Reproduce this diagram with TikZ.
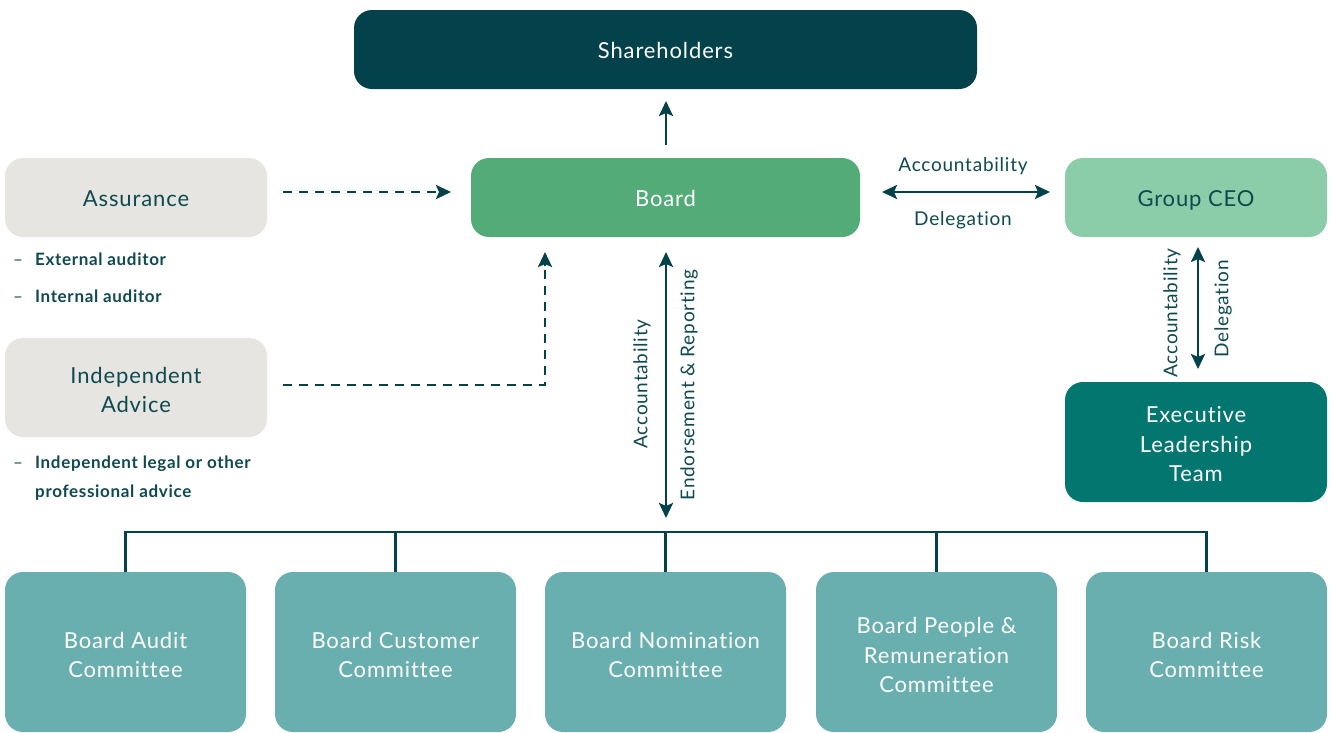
\documentclass[tikz,border=0pt]{standalone}
\usepackage{fontspec}
\setmainfont{Lato}[LetterSpace=4,Ligatures=NoCommon]
\usetikzlibrary{arrows.meta}
\definecolor{dk}{HTML}{03424A}
\definecolor{brd}{HTML}{53AB78}
\definecolor{ceo}{HTML}{8BCDA8}
\definecolor{gry}{HTML}{E6E5E1}
\definecolor{elt}{HTML}{037670}
\definecolor{cmt}{HTML}{69AFAF}
\definecolor{txt}{HTML}{0E4A4F}
\newcommand{\lift}[1]{\rule{0pt}{#1}}
\tikzset{
  box/.style={rounded corners=18pt, inner sep=0pt, align=center, draw=none,
    text depth=0pt, execute at begin node={\rule{0pt}{18pt}},
    font=\fontsize{22}{29.5}\selectfont},
  mbox/.style={box, execute at begin node={}},
  wbox/.style={box, text=white},
  dbox/.style={box, text=txt},
  cbox/.style={mbox, text=white, fill=cmt, minimum width=241pt, minimum height=160pt},
  lbl/.style={text=txt, inner sep=0pt, font=\fontsize{19}{22}\selectfont},
  bul/.style={text=txt, inner sep=0pt, anchor=west, align=left, font=\fontsize{17}{29}\selectfont\bfseries},
  arr/.style={draw=dk, line width=2.6pt, -{Stealth[length=15pt,width=14pt,inset=3pt]}},
  darr/.style={draw=dk, line width=2.6pt, {Stealth[length=15pt,width=14pt,inset=3pt]}-{Stealth[length=15pt,width=14pt,inset=3pt]}},
  dsh/.style={draw=dk, line width=2.6pt, dash pattern=on 9pt off 7pt},
  bus/.style={draw=dk, line width=2.6pt},
}
\begin{document}
\begin{tikzpicture}[x=1pt,y=-1pt]
\useasboundingbox[fill=white] (0,0) rectangle (1333,732);
% boxes
\node[wbox, fill=dk, minimum width=623pt, minimum height=79pt] (sh) at (665.5,49.5) {Shareholders};
\node[wbox, fill=brd, minimum width=389pt, minimum height=79pt] (board) at (665.5,197.5) {Board};
\node[dbox, fill=ceo, minimum width=262pt, minimum height=79pt] (ceo) at (1196,197.5) {Group CEO};
\node[dbox, fill=gry, minimum width=262pt, minimum height=79pt] (as) at (136,197.5) {Assurance};
\node[mbox, text=txt, fill=gry, minimum width=262pt, minimum height=99pt] (ia) at (136,387.5) {\lift{21pt}Independent\\Advice};
\node[mbox, text=white, fill=elt, minimum width=262pt, minimum height=120pt] (elt) at (1196,442) {\lift{20pt}Executive\\Leadership\\Team};
% committees
\node[cbox] (c1) at (125.5,652) {\lift{22pt}Board Audit\\Committee};
\node[cbox] (c2) at (395.5,652) {\lift{22pt}Board Customer\\Committee};
\node[cbox] (c3) at (665.5,652) {\lift{22pt}Board Nomination\\Committee};
\node[cbox] (c4) at (936.5,652) {\lift{22pt}Board People \&\\Remuneration\\Committee};
\node[cbox] (c5) at (1206.5,652) {\lift{22pt}Board Risk\\Committee};
% bullets
\node[bul] (b1) at (13,259) {{\mdseries –}\hspace{12pt}External auditor};
\node[bul] (b2) at (13,296) {{\mdseries –}\hspace{12pt}Internal auditor};
\node[bul] (b3) at (13,478) {{\mdseries –}\hspace{12pt}Independent legal or other\\\hspace{22pt}professional advice};
% bus
\coordinate (busL) at (c1.north |- 0,532);
\coordinate (busR) at (c5.north |- 0,532);
\draw[bus] (busL) -- (busR);
\foreach \c in {c1,c2,c3,c4,c5} \draw[bus] (\c.north |- 0,531) -- (\c.north);
% arrows
\coordinate (shA) at (666,145);
\coordinate (shB) at (666,101);
\draw[arr] (shA) -- (shB);
\coordinate (vt) at (666,252);
\coordinate (vb) at (666,518);
\draw[darr] (vt) -- (vb);
\node[lbl, rotate=90] (la1) at (642,384) {Accountability};
\node[lbl, rotate=90] (la2) at (689,385) {Endorsement \& Reporting};
\coordinate (hl) at (882,192);
\coordinate (hr) at (1050,192);
\draw[darr] (hl) -- (hr);
\node[lbl] (ha) at (963,166) {Accountability};
\node[lbl] (hd) at (963,220) {Delegation};
\coordinate (ct) at (1198,247);
\coordinate (cb) at (1198,369);
\draw[darr] (ct) -- (cb);
\node[lbl, rotate=90] (ca) at (1172,313) {Accountability};
\node[lbl, rotate=90] (cd) at (1223,309) {Delegation};
% dashed
\coordinate (d1a) at (283,192);
\coordinate (d1b) at (440,192);
\coordinate (d1h) at (451,192);
\draw[dsh] (d1a) -- (d1b);
\draw[arr] (d1b) -- (d1h);
\coordinate (d2a) at (283,385);
\coordinate (d2c) at (545,385);
\coordinate (d2b) at (545,266);
\coordinate (d2h) at (545,252);
\draw[dsh] (d2a) -- (d2c) -- (d2b);
\draw[arr] (d2b) -- (d2h);
\end{tikzpicture}
\end{document}
